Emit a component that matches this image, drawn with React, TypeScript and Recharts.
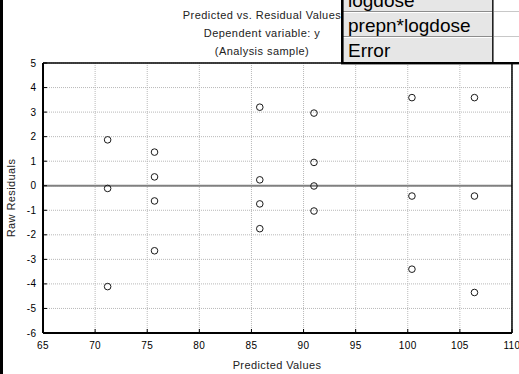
import React from 'react';
import { ScatterChart, Scatter, XAxis, YAxis, CartesianGrid, ReferenceLine } from 'recharts';

const predicted = [71.2, 71.2, 71.2, 75.7, 75.7, 75.7, 75.7, 85.8, 85.8, 85.8, 85.8, 91.0, 91.0, 91.0, 91.0, 100.4, 100.4, 100.4, 106.4, 106.4, 106.4];
const residuals = [1.87, -0.11, -4.11, 1.37, 0.36, -0.62, -2.65, 3.2, 0.24, -0.74, -1.75, 2.96, 0.95, -0.01, -1.03, 3.59, -0.42, -3.4, 3.59, -0.42, -4.35];

const xTicks = [65, 70, 75, 80, 85, 90, 95, 100, 105, 110];
const yTicks = [-6, -5, -4, -3, -2, -1, 0, 1, 2, 3, 4, 5];
const xMinorTicks = Array.from({ length: 46 }, (_, i) => 65 + i);
const yMinorTicks = Array.from({ length: 45 }, (_, i) => -6 + i * 0.25);

const titleLines = ['Predicted vs. Residual Values', 'Dependent variable: y', '(Analysis sample)'];
const tableRows = ['logdose', 'prepn*logdose', 'Error'];

const xDomain: [number, number] = [65, 110];
const yDomain: [number, number] = [-6, 5];

const data = predicted.map((x, i) => ({ x, y: residuals[i] }));

const FONT = '"Liberation Sans", Arial, sans-serif';
const tickStyle = { fontSize: 10, fill: '#000', fontFamily: FONT, letterSpacing: 0.4 };

const Circle = (props: any) => (
  <circle cx={props.cx} cy={props.cy} r={3.3} fill="none" stroke="#1a1a1a" strokeWidth={1} />
);

export default function App() {
  return (
    <div style={{ position: 'absolute', left: 0, top: 0, width: 519, height: 374, background: '#fff' }}>
      <ScatterChart width={519} height={374} margin={{ top: 63, right: 7, bottom: 0, left: 0 }}>
        {/* minor tick axes (declared first so they sit on the plot edges) */}
        <XAxis xAxisId="minB" type="number" dataKey="x" domain={xDomain} allowDataOverflow ticks={xMinorTicks} interval={0}
          orientation="bottom" height={0.01} tickSize={-2.5} tick={false} axisLine={false} tickLine={{ stroke: '#000' }} />
        <XAxis xAxisId="minT" type="number" dataKey="x" domain={xDomain} allowDataOverflow ticks={xMinorTicks} interval={0}
          orientation="top" height={0.01} tickSize={-2.5} tick={false} axisLine={false} tickLine={{ stroke: '#000' }} />
        <XAxis xAxisId="majT" type="number" dataKey="x" domain={xDomain} allowDataOverflow ticks={xTicks} interval={0}
          orientation="top" height={0.01} tickSize={-4} tick={false} axisLine={{ stroke: '#000', strokeWidth: 1.5 }} tickLine={{ stroke: '#000' }} />
        <XAxis xAxisId="main" type="number" dataKey="x" domain={xDomain} allowDataOverflow ticks={xTicks} interval={0}
          orientation="bottom" height={41} tickSize={-4} tickMargin={13} tick={tickStyle}
          axisLine={{ stroke: '#000', strokeWidth: 2 }} tickLine={{ stroke: '#000' }} />

        <YAxis yAxisId="minL" type="number" dataKey="y" domain={yDomain} allowDataOverflow ticks={yMinorTicks} interval={0}
          orientation="left" width={0.01} tickSize={-2.5} tick={false} axisLine={false} tickLine={{ stroke: '#000' }} />
        <YAxis yAxisId="minR" type="number" dataKey="y" domain={yDomain} allowDataOverflow ticks={yMinorTicks} interval={0}
          orientation="right" width={0.01} tickSize={-2.5} tick={false} axisLine={false} tickLine={{ stroke: '#000' }} />
        <YAxis yAxisId="majR" type="number" dataKey="y" domain={yDomain} allowDataOverflow ticks={yTicks} interval={0}
          orientation="right" width={0.01} tickSize={-4} tick={false} axisLine={{ stroke: '#000', strokeWidth: 1.5 }} tickLine={{ stroke: '#000' }} />
        <YAxis yAxisId="main" type="number" dataKey="y" domain={yDomain} allowDataOverflow ticks={yTicks} interval={0}
          orientation="left" width={43} tickSize={-4} tickMargin={10.5} tick={tickStyle}
          axisLine={{ stroke: '#000', strokeWidth: 2 }} tickLine={{ stroke: '#000' }} />

        <CartesianGrid xAxisId="main" yAxisId="main" stroke="#b8b8b8" strokeDasharray="1 1" />
        <ReferenceLine xAxisId="main" yAxisId="main" y={0} stroke="#808080" strokeWidth={2} />
        <Scatter xAxisId="main" yAxisId="main" data={data} shape={Circle} isAnimationActive={false} />
      </ScatterChart>

      <svg width={519} height={374} style={{ position: 'absolute', left: 0, top: 0, pointerEvents: 'none' }}>
        <rect x={0} y={0} width={3} height={374} fill="#000" />
        {titleLines.map((t, i) => (
          <text key={t} x={262} y={19 + i * 18} textAnchor="middle" fontFamily={FONT} fontSize={11} letterSpacing={0.45} fill="#222">{t}</text>
        ))}
        <text x={15} y={198} transform="rotate(-90 15 198)" textAnchor="middle" fontFamily={FONT} fontSize={11} letterSpacing={0.4} fill="#222">Raw Residuals</text>
        <text x={277} y={369} textAnchor="middle" fontFamily={FONT} fontSize={11} letterSpacing={0.4} fill="#222">Predicted Values</text>

        {/* variable table overlay */}
        <rect x={343} y={0} width={149} height={62} fill="#e6e6e6" />
        <rect x={494} y={0} width={25} height={62} fill="#fff" />
        {[11.5, 36.5].map((yy) => (
          <g key={yy}>
            <line x1={343} x2={492} y1={yy} y2={yy} stroke="#8c8c8c" />
            <line x1={343} x2={492} y1={yy + 1} y2={yy + 1} stroke="#fff" />
            <line x1={494} x2={519} y1={yy} y2={yy} stroke="#c8c8c8" />
          </g>
        ))}
        {tableRows.map((r, i) => (
          <text key={r} x={348} y={6.5 + i * 25} fontFamily={FONT} fontSize={19} fill="#000">{r}</text>
        ))}
        <rect x={492} y={0} width={1.6} height={62} fill="#222" />
        <rect x={341} y={0} width={2.6} height={64} fill="#000" />
        <rect x={341} y={62} width={178} height={2.4} fill="#000" />
      </svg>
    </div>
  );
}
